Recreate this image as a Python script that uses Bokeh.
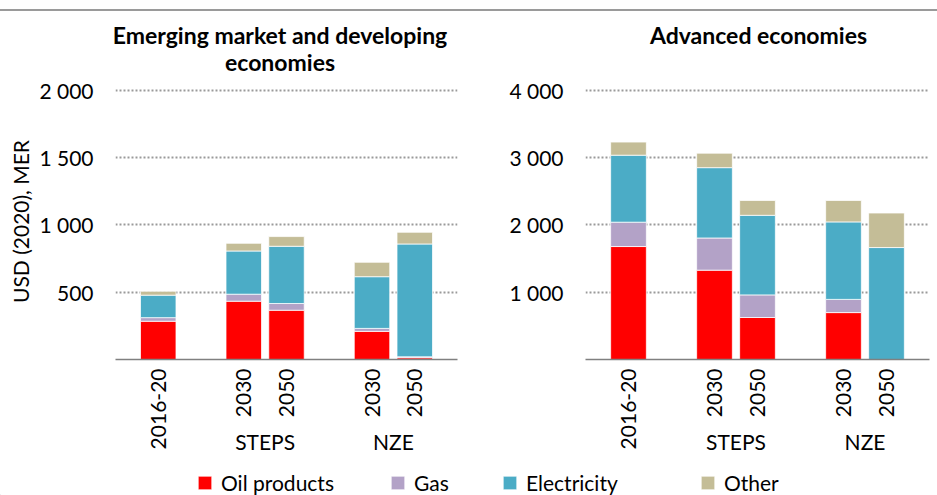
from math import pi
from bokeh.plotting import figure
from bokeh.models import (Range1d, FixedTicker, CustomJSTickFormatter, Title, LinearAxis,
                          Label, Legend, LegendItem, Div, ColumnDataSource)
from bokeh.layouts import column, row
from bokeh.embed import file_html
from bokeh.resources import INLINE

# ---------------- data ----------------
positions = [1, 3, 4, 6, 7]
tick_labels = ["2016-20", "2030", "2050", "2030", "2050"]
group_names = ["STEPS", "NZE"]
group_pos = [3.5, 6.5]
series = ["Oil products", "Gas", "Electricity", "Other"]
keys = ["oil", "gas", "elec", "other"]
colors = ["#FF0000", "#B3A2C7", "#4BACC6", "#C4BD97"]

emde_title = ["Emerging market and developing", "economies"]
emde_oil = [284, 433, 366, 209, 13]
emde_gas = [27, 52, 50, 22, 7]
emde_elec = [167, 321, 425, 384, 838]
emde_other = [29, 57, 72, 107, 87]
emde_ticks = [500, 1000, 1500, 2000]

adv_title = ["Advanced economies"]
adv_oil = [1678, 1327, 624, 697, 0]
adv_gas = [362, 478, 336, 196, 0]
adv_elec = [995, 1045, 1182, 1151, 1663]
adv_other = [195, 215, 220, 318, 513]
adv_ticks = [1000, 2000, 3000, 4000]

FONT = "Lato"
FS = "21px"

fmt_code = """
const s = Math.round(tick).toString();
return s.replace(/\\B(?=(\\d{3})+(?!\\d))/g, " ");
"""


def style_axis(ax):
    ax.major_tick_line_color = None
    ax.minor_tick_line_color = None
    ax.major_tick_out = 0
    ax.major_tick_in = 0
    ax.major_label_text_font = FONT
    ax.major_label_text_font_size = FS
    ax.major_label_text_color = "black"


def make_chart(width, mbl, mbr, mbt, ymax, ticks, vals):
    p = figure(width=width, height=385, x_range=Range1d(0, 8), y_range=Range1d(0, ymax),
               output_backend="svg", toolbar_location=None,
               min_border_left=mbl, min_border_right=mbr, min_border_top=mbt,
               min_border_bottom=101)
    p.outline_line_color = None
    src = ColumnDataSource(dict(x=positions, oil=vals[0], gas=vals[1], elec=vals[2], other=vals[3]))
    p.vbar_stack(keys, x="x", width=0.83, color=colors, source=src,
                 line_color="white", line_width=0.75)
    # y axis
    yax = p.yaxis[0]
    style_axis(yax)
    yax.ticker = FixedTicker(ticks=ticks)
    yax.formatter = CustomJSTickFormatter(code=fmt_code)
    yax.axis_line_color = None
    yax.major_label_standoff = 22
    # x axis (years)
    xax = p.xaxis[0]
    style_axis(xax)
    xax.ticker = FixedTicker(ticks=positions)
    xax.major_label_overrides = {pp: t for pp, t in zip(positions, tick_labels)}
    xax.major_label_orientation = pi / 2
    xax.axis_line_color = "#808080"
    xax.axis_line_width = 1.5
    xax.major_label_standoff = 9
    # x axis (scenario groups)
    gax = LinearAxis(ticker=FixedTicker(ticks=group_pos),
                     major_label_overrides={gp: g for gp, g in zip(group_pos, group_names)})
    style_axis(gax)
    gax.axis_line_color = None
    gax.major_label_standoff = -24
    p.add_layout(gax, "below")
    # grids
    p.xgrid.grid_line_color = None
    p.ygrid.ticker = FixedTicker(ticks=ticks)
    p.ygrid.grid_line_color = "#9a9a9a"
    p.ygrid.grid_line_dash = "2 2"
    p.ygrid.grid_line_width = 2
    return p


# title strip
pt = figure(width=937, height=64, x_range=Range1d(0, 937), y_range=Range1d(0, 64),
            output_backend="svg", toolbar_location=None, min_border=0,
            x_axis_location=None, y_axis_location=None)
pt.outline_line_color = None
pt.grid.visible = False
for t, ty in zip(emde_title, [41, 14]):
    pt.add_layout(Label(x=279.5, y=ty, text=t, text_align="center",
                        text_baseline="middle", text_font=FONT, text_font_size="23px",
                        text_font_style="bold", text_color="black"))
for t in adv_title:
    pt.add_layout(Label(x=758, y=41, text=t, text_align="center",
                        text_baseline="middle", text_font=FONT, text_font_size="23px",
                        text_font_style="bold", text_color="black"))

p1 = make_chart(500, 115, 43, 8, 2050, emde_ticks,
                [emde_oil, emde_gas, emde_elec, emde_other])
p1.add_layout(Title(text="USD (2020), MER", align="center", offset=60, standoff=8,
                    text_font=FONT, text_font_size=FS, text_font_style="normal",
                    text_color="black"), "left")

p2 = make_chart(437, 85, 8, 5, 4100, adv_ticks,
                [adv_oil, adv_gas, adv_elec, adv_other])

# legend strip
p3 = figure(width=937, height=35, x_range=Range1d(0, 937), y_range=Range1d(0, 35),
            output_backend="svg", toolbar_location=None, min_border=0,
            x_axis_location=None, y_axis_location=None)
p3.outline_line_color = None
p3.grid.visible = False
leg_x = [196, 389, 501, 699]
for name, c, lx in zip(series, colors, leg_x):
    r = p3.vbar(x=[-50], top=[1], width=1, fill_color=c, line_color="white", line_width=0.75)
    leg = Legend(items=[LegendItem(label=name, renderers=[r])], location=(lx, 0),
                 orientation="horizontal", padding=0, margin=0, border_line_color=None,
                 background_fill_alpha=0, glyph_width=17, glyph_height=17,
                 label_standoff=8, label_height=17, label_text_font=FONT,
                 label_text_font_size=FS, label_text_color="black")
    p3.add_layout(leg)

topline = Div(text="", width=937, height=2, margin=(9, 0, 0, 0),
              styles={"background-color": "#9a9a9a"})

layout = column(topline, pt, row(p1, p2), p3)
open("out.html", "w").write(file_html(layout, INLINE))
